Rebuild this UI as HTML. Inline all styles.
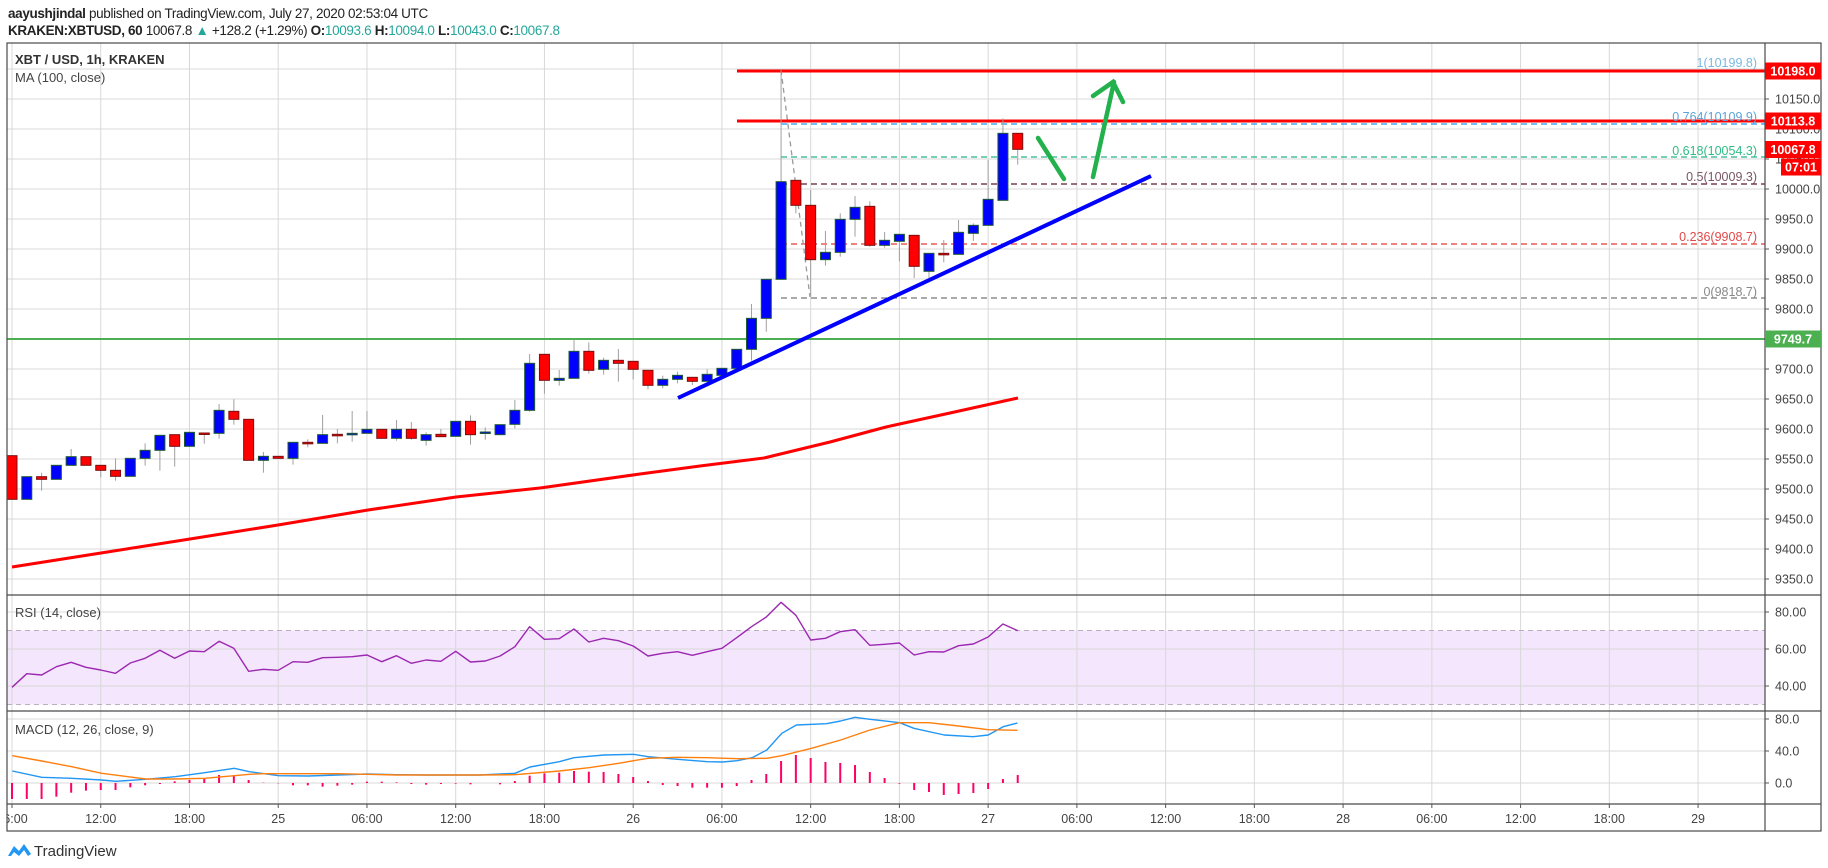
<!DOCTYPE html>
<html><head><meta charset="utf-8">
<style>
html,body{margin:0;padding:0;background:#fff;width:1828px;height:868px;overflow:hidden}
svg{display:block}
text{font-family:"Liberation Sans",sans-serif}
</style></head>
<body>
<svg id="s" width="1828" height="868" xmlns="http://www.w3.org/2000/svg"></svg>
<script>
const S=document.getElementById('s');
let h='';
function L(x1,y1,x2,y2,c,w,d){h+=`<line x1="${x1}" y1="${y1}" x2="${x2}" y2="${y2}" stroke="${c}" stroke-width="${w}"${d?` stroke-dasharray="${d}"`:''}/>`;}
function R(x,y,w,hh,f,st){h+=`<rect x="${x}" y="${y}" width="${w}" height="${hh}" fill="${f}"${st?` stroke="${st}" stroke-width="1"`:''}/>`;}
function T(x,y,t,sz,c,anc,wt){h+=`<text x="${x}" y="${y}" font-size="${sz}" fill="${c}"${anc?` text-anchor="${anc}"`:''}${wt?` font-weight="${wt}"`:''}>${t}</text>`;}
function P(pts,c,w){h+=`<polyline fill="none" stroke="${c}" stroke-width="${w}" stroke-linejoin="round" points="${pts.map(p=>p[0].toFixed(1)+','+p[1].toFixed(1)).join(' ')}"/>`;}
const X0=7,X1=1765,XR=1821,Y0=43,YM=595,YR=711,YC=804,YT=831;
const cx=i=>12+i*14.79;
// header
h+=`<text x="8" y="18" font-size="13.5" fill="#222" letter-spacing="-0.35"><tspan font-weight="bold">aayushjindal</tspan> published on TradingView.com, July 27, 2020 02:53:04 UTC</text>`;
h+=`<text x="8" y="35" font-size="13.5" fill="#222" letter-spacing="-0.35"><tspan font-weight="bold">KRAKEN:XBTUSD, 60</tspan> 10067.8 <tspan fill="#26a69a">▲</tspan> +128.2 (+1.29%) <tspan font-weight="bold">O:</tspan><tspan fill="#26a69a">10093.6</tspan> <tspan font-weight="bold">H:</tspan><tspan fill="#26a69a">10094.0</tspan> <tspan font-weight="bold">L:</tspan><tspan fill="#26a69a">10043.0</tspan> <tspan font-weight="bold">C:</tspan><tspan fill="#26a69a">10067.8</tspan></text>`;
h+=`<clipPath id="c"><rect x="${X0}" y="${Y0}" width="${X1-X0}" height="${YT-Y0}"/></clipPath><g clip-path="url(#c)">`;
// RSI band
R(X0,630.5,X1-X0,74,'#f3e6fd');
// grid
for(let k=0;k<20;k++){const x=12+k*88.74;L(x,Y0,x,YC,'#d8d8d8',1);}
for(let p=10200;p>=9350;p-=50){const y=189+(10000-p)*0.6;L(X0,y,X1,y,'#d8d8d8',1);}
[612,649,686,719,751,783].forEach(y=>L(X0,y,X1,y,'#d8d8d8',1));
L(X0,630.5,X1,630.5,'#b8b0c0',1,'5,4');L(X0,704.5,X1,704.5,'#b8b0c0',1,'5,4');
// fib lines
L(781,124,X1,124,'#2196f3',1.3,'6,4');
L(781,157,X1,157,'#26b28a',1.3,'6,4');
L(781,184,X1,184,'#5a1a30',1.3,'6,4');
L(781,244,X1,244,'#e53935',1.3,'6,4');
L(781,298,X1,298,'#777',1.3,'6,4');
L(781,70,810,297,'#999',1.3,'5,4');
// green horizontal
L(X0,339,X1,339,'#4caf50',2);
// red horizontal
L(737,71,X1,71,'#ff0000',3);L(737,121,X1,121,'#ff0000',3);
// MA
P([[12,567],[101,553],[190,539],[278,525],[368,510],[456,497],[540,488],[640,474],[700,466],[764,458],[830,442],[886,427],[950,413],[1018,398]],'#ff0000',3);
// candles
const z5=[[347,478,347,478],[478,410,410,478],[410,418,398,452],[418,376,376,418],[376,350,327,376],[350,376,350,376],[376,391,376,412],[391,409,355,422],[409,355,355,409],[355,331,310,377],[331,286,286,392],[284,319,284,380],[319,277,277,319],[279,281,278,311],[280,211,192,296],[214,238,178,254],[238,361,238,361],[361,349,336,398],[349,355,349,355],[355,307,307,374],[307,310,298,322],[310,284,225,310],[283,285,267,310],[284,280,213,305],[280,268,213,280],[268,295,268,295],[295,268,240,302],[268,295,246,299],[301,284,277,317],[283,290,267,290],[289,244,244,289],[244,284,226,314],[278,276,262,299],[284,254,254,284],[253,211,180,265],[211,70,42,215]];
const z6=[[163,241,163,281],[241,235,210,257],[235,154,118,235],[154,211,127,221],[208,181,173,224],[181,190,147,245],[184,208,184,238],[211,256,211,268],[256,238,227,265],[238,226,215,250],[232,244,232,255],[244,223,208,244],[226,205,205,226],[205,148,148,205],[148,55,12,182]];
const z7=[[775,658,658,815],[658,365,30,658],[361,436,361,460],[436,599,390,710],[599,577,513,617],[577,478,460,590],[478,442,408,530],[439,556,424,560],[556,541,516,563],[544,523,523,604],[526,619,526,654],[634,580,580,655],[580,583,540,607],[583,517,480,583],[520,496,490,543],[496,418,300,496],[421,220,175,421],[220,268,220,314]];
const C=[];z5.forEach(a=>C.push(a.map(v=>340+v/3)));z6.forEach(a=>C.push(a.map(v=>300+v/3)));z7.forEach(a=>C.push(a.map(v=>60+v/3)));
C.forEach((c,i)=>{const x=cx(i),[o,cl,hi,lo]=c,up=cl<o;
 L(x,hi,x,lo,'#a0a0a0',1);
 const t=Math.min(o,cl),b=Math.max(o,cl);
 R(x-5,t,10,Math.max(b-t,1.5),up?'#0000ff':'#ff0000',up?'#1e5a32':'#7a1010');});
// trend line
L(678,398,1151,176,'#0000ff',4);
// green arrows
h+=`<g stroke="#22b14c" stroke-width="4.5" stroke-linecap="round" fill="none"><line x1="1038" y1="138" x2="1064" y2="179"/><line x1="1093" y1="177" x2="1114" y2="82"/><polyline points="1093,96 1113,82 1123,102"/></g>`;
// fib labels
T(1757,67,'1(10199.8)',12.5,'#7ab8e0','end');
T(1757,121,'0.764(10109.9)',12.5,'#5aa3d8','end');
T(1757,155,'0.618(10054.3)',12.5,'#2ebd85','end');
T(1757,181,'0.5(10009.3)',12.5,'#7a5565','end');
T(1757,241,'0.236(9908.7)',12.5,'#e04848','end');
T(1757,296,'0(9818.7)',12.5,'#888','end');
// RSI
const rz4=[382,341,345,320,307,322,330,340,309,295,271,295,273,275,244,265,334,328,331,305,307,293,292,290,285,305,287,310,300,304,274,306,303];
const rz8=[183,155,95,133,131,102,141,130,137,153,183,175,170,181,170,160,128,95,66,22,61,135,130,110,104,151,148,144,180,170,171,152,147,126,87,107];
const rp=[];rz4.forEach((v,i)=>rp.push([cx(i),560+v/3]));rz8.forEach((v,i)=>rp.push([cx(33+i),595+v/3]));
P(rp,'#9c27b0',1.4);
// MACD histogram
const hz4=[717,717,717,710,698,692,690,690,682,676,672,664,660,656,645,645,660,668,670,676,676,680,677,674,665,665,667,672,674,672,671,673];
hz4.forEach((v,i)=>L(cx(i),783,cx(i),560+v/3,'#ff0066',2));
const hz8=[568,558,542,535,533,528,530,531,537,546,558,570,573,578,578,578,573,555,537,498,480,489,501,504,510,531,549,566,585,591,600,597,594,582,552,540];
hz8.forEach((v,i)=>L(cx(33+i),783,cx(33+i),595+v/3,'#ff0066',2));
// MACD lines
const b4=[[37,633],[125,652],[215,655],[305,660],[348,664],[437,658],[526,650],[614,638],[703,625],[748,635],[836,647],[925,648],[1013,645],[1102,642],[1190,644],[1280,645],[1369,645]].map(p=>[p[0]/3,560+p[1]/3]);
const b8=[[0,540],[98,535],[140,516],[222,500],[263,488],[347,480],[430,478],[471,485],[553,493],[637,500],[679,501],[720,497],[762,488],[803,465],[845,415],[886,390],[970,386],[1010,378],[1050,367],[1092,373],[1175,383],[1215,400],[1300,420],[1381,425],[1423,420],[1465,395],[1505,384]].map(p=>[480+p[0]/2.8,595+p[1]/3]);
P(b4.concat(b8),'#2196f3',1.4);
const o4=[[37,587],[125,603],[215,620],[305,640],[437,657],[526,657],[614,655],[703,647],[748,643],[792,641],[1013,641],[1102,643],[1190,645]].map(p=>[p[0]/3,560+p[1]/3]);
const o8=[[0,540],[98,539],[222,528],[305,518],[388,505],[430,497],[471,490],[553,487],[637,488],[720,491],[803,490],[845,482],[928,460],[1010,435],[1092,405],[1175,383],[1257,383],[1340,393],[1423,404],[1505,406]].map(p=>[480+p[0]/2.8,595+p[1]/3]);
P(o4.concat(o8),'#ff7f0e',1.4);
// pane legends
T(15,64,'XBT / USD, 1h, KRAKEN',13,'#333',null,'bold');
T(15,82,'MA (100, close)',13,'#444');
T(15,617,'RSI (14, close)',13,'#444');
T(15,734,'MACD (12, 26, close, 9)',13,'#444');
h+='</g>';
// frame
h+=`<g stroke="#4a4a4a" stroke-width="1.2" fill="none"><rect x="${X0}" y="${Y0}" width="${XR-X0}" height="${YT-Y0}"/><line x1="${X1}" y1="${Y0}" x2="${X1}" y2="${YT}"/><line x1="${X0}" y1="${YM}" x2="${XR}" y2="${YM}"/><line x1="${X0}" y1="${YR}" x2="${XR}" y2="${YR}"/><line x1="${X0}" y1="${YC}" x2="${XR}" y2="${YC}"/></g>`;
// price axis
for(let p=10150;p>=9350;p-=50){const y=189+(10000-p)*0.6;L(X1,y,X1+4,y,'#555',1);T(1775,y+4.5,p.toFixed(1),12.5,'#444');}
[[612,'80.00'],[649,'60.00'],[686,'40.00'],[719,'80.0'],[751,'40.0'],[783,'0.0']].forEach(a=>{L(X1,a[0],X1+4,a[0],'#555',1);T(1775,a[0]+4.5,a[1],12.5,'#444');});
function tag(y,t,c,x){R(x||X1,y-8.5,XR-(x||X1),17,c);T(((x||X1)+XR)/2,y+4.5,t,12.5,'#fff','middle','bold');}
tag(71,'10198.0','#ff0000');tag(121,'10113.8','#ff0000');tag(149.5,'10067.8','#ff0000');tag(167,'07:01','#ff0000',1781);
tag(339,'9749.7','#4caf50');
// time axis
const tl=['06:00','12:00','18:00','25','06:00','12:00','18:00','26','06:00','12:00','18:00','27','06:00','12:00','18:00','28','06:00','12:00','18:00','29'];
h+=`<clipPath id="t"><rect x="${X0}" y="${YC}" width="${X1-X0}" height="30"/></clipPath><g clip-path="url(#t)">`;
tl.forEach((t,k)=>{const x=12+k*88.74;L(x,YC,x,YC+4,'#555',1);T(x,823,t,12.5,'#444','middle');});
h+='</g>';
// logo
h+=`<g transform="translate(8,842)"><path d="M0,14 L6,4 L11,9 L16,2 L23,12 L20,14 L16,8 L11,14 L6,10 L3,14 Z" fill="#2196f3"/></g>`;
T(34,856,'TradingView',15,'#333');
S.innerHTML=h;
</script>
</body></html>
